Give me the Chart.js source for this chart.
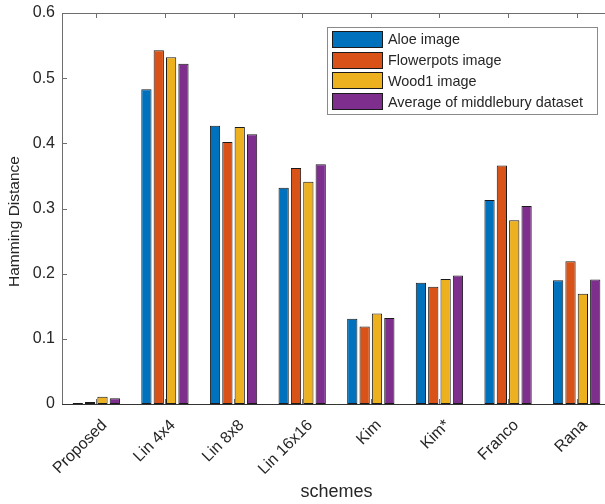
<!DOCTYPE html>
<html>
<head>
<meta charset="utf-8">
<script src="https://cdn.jsdelivr.net/npm/chart.js@4/dist/chart.umd.min.js"></script>
<style>
  html, body { margin: 0; padding: 0; background: #fff; overflow: hidden; }
  #wrap { width: 614px; height: 504px; }
</style>
</head>
<body>
<div id="wrap"><canvas id="hamChart" width="614" height="504"></canvas></div>
<script>
const schemes = ["Proposed", "Lin 4x4", "Lin 8x8", "Lin 16x16", "Kim", "Kim*", "Franco", "Rana"];
const seriesNames = ["Aloe image", "Flowerpots image", "Wood1 image", "Average of middlebury dataset"];
const aloe       = [0.0015, 0.483, 0.427, 0.332, 0.131, 0.186, 0.313, 0.190];
const flowerpots = [0.003,  0.543, 0.402, 0.362, 0.119, 0.180, 0.366, 0.219];
const wood1      = [0.011,  0.532, 0.425, 0.341, 0.139, 0.192, 0.282, 0.169];
const average    = [0.009,  0.522, 0.414, 0.368, 0.132, 0.197, 0.304, 0.191];
const yTicks = [0, 0.1, 0.2, 0.3, 0.4, 0.5, 0.6];
const yTitle = "Hamming Distance";

const colors = ["#0072BD", "#D95319", "#EDB120", "#7E2F8E"];
const textColor = "#262626";
const axisColor = "#6e6e6e";
const fontFam = "'Liberation Sans', Arial, Helvetica, sans-serif";

// ticks + frame, MATLAB style (ticks point inside)
const frameTicks = {
  id: "frameTicks",
  beforeDatasetsDraw(chart) {
    const { ctx, chartArea: a, scales } = chart;
    ctx.save();
    ctx.strokeStyle = axisColor;
    ctx.lineWidth = 1;
    ctx.beginPath();
    schemes.forEach((s, i) => {
      const x = Math.round(scales.x.getPixelForValue(i)) + 0.5;
      ctx.moveTo(x, a.bottom); ctx.lineTo(x, a.bottom - 5);
    });
    ctx.stroke();
    ctx.restore();
  },
  afterDatasetsDraw(chart) {
    const { ctx, chartArea: a, scales } = chart;
    ctx.save();
    ctx.strokeStyle = axisColor;
    ctx.lineWidth = 1;
    ctx.beginPath();
    schemes.forEach((s, i) => {
      const x = Math.round(scales.x.getPixelForValue(i)) + 0.5;
      ctx.moveTo(x, a.top); ctx.lineTo(x, a.top + 5);
    });
    yTicks.forEach(v => {
      const y = Math.round(scales.y.getPixelForValue(v)) + 0.5;
      ctx.moveTo(a.left, y); ctx.lineTo(a.left + 5, y);
    });
    ctx.stroke();
    ctx.strokeRect(Math.round(a.left) + 0.5, Math.round(a.top) + 0.5,
      Math.round(a.right - a.left), Math.round(a.bottom - a.top));
    ctx.strokeStyle = "#333";
    ctx.beginPath();
    ctx.moveTo(a.left, Math.round(a.bottom) + 0.5);
    ctx.lineTo(a.right, Math.round(a.bottom) + 0.5);
    ctx.stroke();
    ctx.restore();
  },
  afterDraw(chart) {
    const { ctx, scales } = chart;
    ctx.save();
    // y axis title (sits a bit below the axis centre in the original)
    ctx.fillStyle = textColor;
    ctx.font = "15.5px " + fontFam;
    ctx.textAlign = "center";
    ctx.textBaseline = "middle";
    ctx.translate(15, scales.y.getPixelForValue(0.28));
    ctx.rotate(-Math.PI / 2);
    ctx.fillText(yTitle, 0, 0);
    ctx.restore();

    // legend box
    const bx = 327, by = 27, bw = 270, bh = 87;
    ctx.save();
    ctx.fillStyle = "#fff";
    ctx.fillRect(bx, by, bw, bh);
    ctx.strokeStyle = "#8a8a8a";
    ctx.lineWidth = 1;
    ctx.strokeRect(bx + 0.5, by + 0.5, bw, bh);
    ctx.font = "14.4px " + fontFam;
    ctx.textBaseline = "middle";
    chart.data.datasets.forEach((ds, i) => {
      const y = 31 + i * 20.7;
      ctx.fillStyle = ds.backgroundColor;
      ctx.fillRect(332, Math.round(y), 50, 16);
      ctx.strokeStyle = "#1a1a1a";
      ctx.strokeRect(332.5, Math.round(y) + 0.5, 50, 16);
      ctx.fillStyle = textColor;
      ctx.fillText(ds.label, 388, y + 9.5);
    });
    ctx.restore();
  }
};

const datasets = [aloe, flowerpots, wood1, average].map((d, i) => ({
  label: seriesNames[i],
  data: d,
  backgroundColor: colors[i],
  borderColor: "#1a1a1a",
  borderWidth: 1,
  borderSkipped: false,
  categoryPercentage: 0.72,
  barPercentage: 0.83
}));

new Chart(document.getElementById("hamChart"), {
  type: "bar",
  data: { labels: schemes, datasets: datasets },
  options: {
    responsive: false,
    animation: false,
    devicePixelRatio: 1,
    layout: { padding: { left: 0, right: 3, top: 13, bottom: 0 } },
    plugins: { legend: { display: false }, tooltip: { enabled: false } },
    scales: {
      x: {
        grid: { display: false, drawTicks: false },
        border: { display: false },
        ticks: {
          autoSkip: false, minRotation: 45, maxRotation: 45, padding: 12, labelOffset: 8,
          color: textColor, font: { family: fontFam, size: 16 }
        },
        title: {
          display: true, text: "schemes", color: textColor,
          font: { family: fontFam, size: 18 }, padding: { top: 0, bottom: 1 }
        },
        afterFit(scale) {
          scale.height = 100;
          scale.paddingLeft = 0; scale.paddingRight = 0;
        }
      },
      y: {
        min: 0, max: 0.6,
        afterBuildTicks(scale) { scale.ticks = yTicks.map(v => ({ value: v })); },
        grid: { display: false, drawTicks: false },
        border: { display: false },
        ticks: {
          padding: 7, color: textColor, font: { family: fontFam, size: 16 },
          callback: v => (v === 0 ? "0" : v.toFixed(1))
        },
        afterFit(scale) {
          scale.width = 62;
          scale.paddingTop = 0; scale.paddingBottom = 0;
        }
      }
    }
  },
  plugins: [frameTicks]
});
</script>
</body>
</html>
